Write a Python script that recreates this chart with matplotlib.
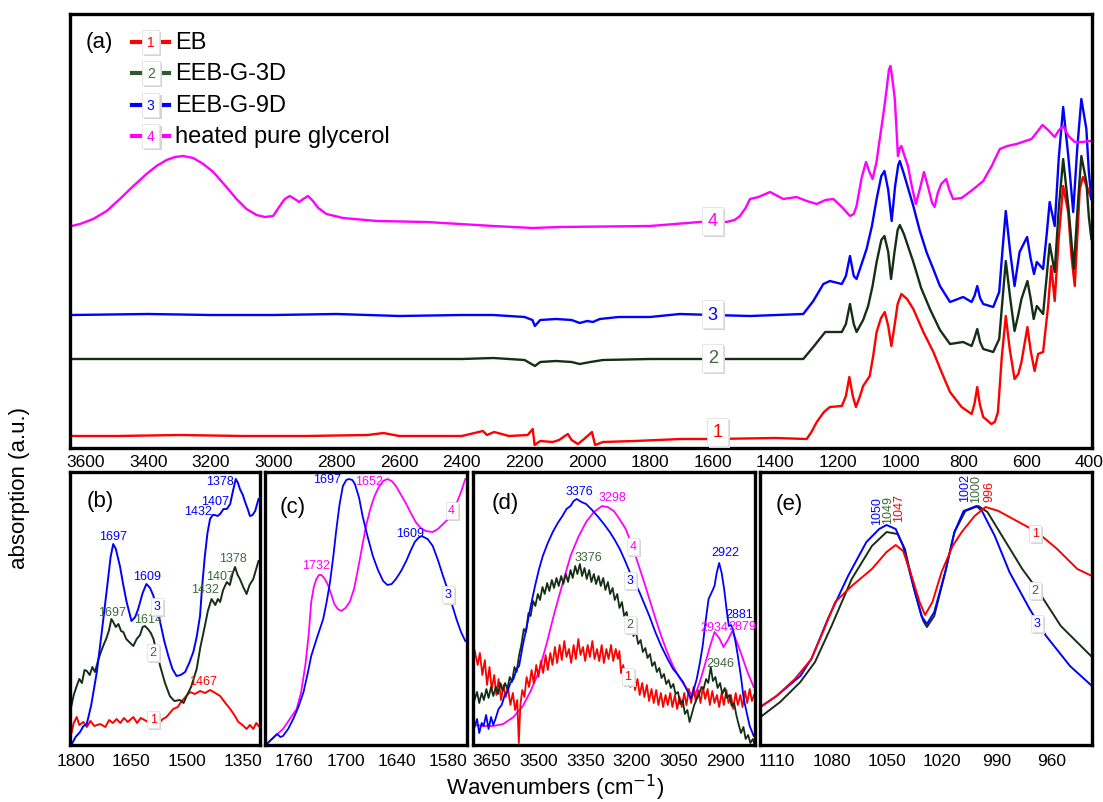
import matplotlib
matplotlib.use("Agg")
import matplotlib.pyplot as plt
import numpy as np

plt.rcParams['font.family'] = ['Liberation Sans', 'DejaVu Sans']

RED = '#ff0000'
GRN = '#152f15'
GRN_TXT = '#3b6a3b'
BLU = '#0000ff'
MAG = '#ff00ff'

# ---------------- (a) full spectra, (wavenumber, absorption a.u.) ----------------
a_eb = [(3645, 12), (3500, 12), (3300, 13), (3100, 12), (2900, 12), (2700, 13), (2650, 15), (2600, 12),
        (2400, 12), (2333, 17), (2320, 13), (2297, 16), (2250, 12), (2190, 13), (2174, 19), (2168, 3),
        (2150, 7), (2110, 6), (2090, 8), (2062, 14), (2050, 8), (2030, 4), (2010, 9), (1985, 16),
        (1975, 3), (1950, 6), (1850, 7), (1700, 9), (1600, 9), (1400, 10), (1300, 9), (1285, 16),
        (1268, 26), (1245, 36), (1226, 41), (1188, 42), (1175, 52), (1164, 71), (1153, 52), (1143, 41),
        (1130, 52), (1120, 62), (1099, 72), (1088, 92), (1077, 116), (1063, 130), (1051, 136),
        (1040, 122), (1030, 102), (1020, 122), (1010, 144), (998, 154), (980, 149), (960, 139),
        (928, 116), (896, 96), (870, 76), (843, 56), (806, 41), (774, 34), (765, 44), (756, 61),
        (748, 44), (737, 31), (711, 24), (700, 26), (690, 36), (678, 90), (665, 132), (652, 98),
        (637, 69), (625, 74), (615, 86), (596, 121), (585, 96), (573, 77), (562, 94), (546, 96),
        (530, 142), (520, 182), (509, 147), (496, 210), (482, 262), (466, 236), (455, 190), (445, 162),
        (437, 210), (429, 259), (419, 271), (403, 259), (392, 249)]
a_g3d = [(3645, 89), (3400, 89), (3000, 89), (2600, 89), (2400, 89), (2300, 90), (2200, 88), (2167, 82),
         (2150, 86), (2100, 87), (2050, 86), (2024, 84), (1990, 86), (1950, 88), (1800, 89), (1600, 89),
         (1311, 89), (1279, 101), (1241, 116), (1188, 116), (1175, 124), (1162, 144), (1150, 124),
         (1141, 116), (1120, 128), (1104, 142), (1090, 162), (1077, 186), (1062, 208), (1052, 212),
         (1040, 196), (1031, 169), (1020, 196), (1010, 218), (1003, 223), (990, 214), (975, 200),
         (960, 186), (935, 160), (907, 139), (875, 118), (843, 104), (801, 106), (774, 102), (765, 110),
         (756, 119), (747, 106), (737, 99), (705, 96), (686, 109), (675, 150), (665, 187), (651, 150),
         (637, 117), (626, 132), (615, 149), (596, 167), (586, 150), (576, 129), (566, 142), (546, 134),
         (535, 170), (525, 204), (509, 176), (496, 240), (482, 289), (465, 240), (448, 179), (436, 240),
         (424, 292), (408, 266), (400, 231), (392, 209)]
a_g9d = [(3645, 133), (3400, 134), (3200, 133), (3000, 133), (2800, 134), (2600, 132), (2400, 133),
         (2300, 133), (2200, 131), (2175, 128), (2167, 122), (2150, 128), (2100, 129), (2050, 128),
         (2024, 125), (2000, 127), (1982, 126), (1960, 129), (1900, 131), (1800, 131), (1705, 134),
         (1600, 133), (1481, 132), (1311, 134), (1279, 147), (1247, 164), (1226, 167), (1188, 164),
         (1175, 172), (1162, 192), (1150, 172), (1141, 169), (1125, 184), (1109, 199), (1092, 222),
         (1077, 249), (1062, 272), (1052, 277), (1040, 258), (1029, 227), (1018, 262), (1008, 283),
         (1003, 287), (990, 274), (975, 258), (960, 242), (940, 218), (918, 196), (895, 178), (875, 162),
         (843, 146), (801, 151), (774, 146), (765, 152), (756, 162), (747, 150), (737, 144), (705, 141),
         (686, 156), (675, 200), (665, 237), (651, 196), (637, 162), (621, 196), (597, 211), (586, 190),
         (575, 174), (566, 186), (546, 179), (535, 212), (525, 246), (509, 222), (496, 290), (482, 341),
         (465, 290), (450, 236), (437, 300), (424, 349), (408, 319), (400, 276), (392, 249)]
a_gly = [(3645, 222), (3618, 224), (3576, 229), (3533, 237), (3491, 249), (3448, 262), (3406, 274),
         (3374, 282), (3342, 288), (3315, 291), (3289, 292), (3257, 290), (3225, 284), (3193, 276),
         (3151, 261), (3119, 249), (3087, 239), (3055, 233), (3028, 231), (3002, 232), (2981, 242),
         (2965, 249), (2949, 252), (2933, 249), (2919, 246), (2906, 249), (2891, 252), (2875, 247),
         (2858, 240), (2832, 234), (2779, 230), (2672, 227), (2513, 226), (2300, 222), (2173, 220),
         (2087, 221), (1800, 222), (1641, 226), (1556, 226), (1530, 228), (1513, 232), (1495, 240),
         (1481, 249), (1454, 251), (1417, 256), (1375, 249), (1332, 251), (1300, 247), (1268, 244),
         (1240, 248), (1215, 249), (1188, 241), (1162, 232), (1150, 234), (1141, 242), (1125, 270),
         (1111, 286), (1100, 276), (1090, 269), (1078, 285), (1067, 309), (1055, 335), (1045, 359),
         (1038, 378), (1033, 382), (1027, 370), (1019, 349), (1013, 315), (1009, 292), (1003, 300),
         (998, 302), (988, 292), (977, 282), (965, 262), (952, 244), (940, 258), (926, 276), (912, 260),
         (900, 245), (892, 241), (882, 255), (871, 264), (855, 269), (845, 258), (833, 249), (806, 250),
         (780, 256), (760, 261), (737, 267), (710, 282), (684, 299), (660, 302), (631, 304), (583, 309),
         (560, 318), (548, 323), (530, 318), (509, 311), (495, 318), (482, 322), (465, 312), (445, 306),
         (420, 306), (400, 307), (392, 307)]

# ---------------- (b) 1800-1300 ----------------
b_eb = [(1813, 9), (1805, 22), (1797, 28), (1790, 20), (1779, 23), (1770, 18), (1760, 24), (1750, 19),
        (1734, 21), (1720, 18), (1710, 25), (1700, 22), (1690, 26), (1680, 22), (1670, 27), (1660, 23),
        (1645, 28), (1635, 22), (1625, 27), (1610, 24), (1595, 20), (1578, 21), (1566, 26), (1556, 28),
        (1538, 36), (1526, 38), (1515, 44), (1505, 48), (1493, 53), (1480, 51), (1466, 54), (1452, 52),
        (1439, 55), (1425, 52), (1412, 49), (1398, 42), (1385, 36), (1374, 30), (1363, 23), (1352, 20),
        (1341, 16), (1332, 20), (1323, 16), (1315, 22), (1309, 19)]
b_g3d = [(1813, 36), (1805, 50), (1797, 59), (1790, 66), (1783, 62), (1776, 75), (1770, 74), (1762, 70),
         (1755, 78), (1748, 73), (1740, 84), (1733, 92), (1726, 99), (1718, 106), (1710, 115),
         (1704, 126), (1699, 123), (1692, 118), (1685, 121), (1678, 114), (1672, 113), (1664, 106),
         (1656, 103), (1645, 99), (1636, 106), (1627, 110), (1620, 118), (1614, 119), (1606, 116),
         (1598, 112), (1591, 106), (1583, 94), (1573, 79), (1560, 62), (1547, 49), (1535, 44),
         (1520, 45), (1510, 42), (1502, 49), (1490, 58), (1475, 76), (1465, 98), (1453, 119),
         (1445, 134), (1435, 146), (1425, 140), (1418, 146), (1412, 143), (1404, 155), (1394, 163),
         (1386, 160), (1378, 172), (1372, 178), (1365, 170), (1359, 166), (1350, 158), (1341, 151),
         (1333, 160), (1323, 166), (1316, 175), (1309, 184)]
b_g9d = [(1810, 1), (1800, 8), (1788, 13), (1779, 19), (1770, 21), (1758, 40), (1743, 73), (1730, 112),
         (1716, 156), (1706, 188), (1699, 201), (1692, 196), (1681, 179), (1672, 160), (1663, 143),
         (1650, 124), (1640, 128), (1632, 136), (1620, 152), (1610, 161), (1600, 157), (1591, 149),
         (1582, 137), (1573, 123), (1562, 104), (1551, 89), (1540, 76), (1529, 69), (1518, 70),
         (1506, 73), (1495, 82), (1484, 93), (1475, 108), (1466, 129), (1460, 160), (1453, 189),
         (1446, 212), (1439, 226), (1432, 230), (1426, 230), (1419, 229), (1412, 231), (1403, 236),
         (1394, 236), (1385, 241), (1377, 255), (1370, 266), (1364, 262), (1359, 256), (1351, 250),
         (1345, 243), (1338, 236), (1332, 229), (1325, 230), (1318, 234), (1309, 246)]

# ---------------- (c) 1790-1560 ----------------
c_g9d = [(1792, 1), (1786, 6), (1780, 11), (1776, 8), (1773, 9), (1767, 16), (1761, 26), (1755, 38),
         (1749, 53), (1744, 72), (1740, 89), (1733, 108), (1726, 126), (1722, 143), (1718, 163),
         (1714, 190), (1711, 213), (1707, 240), (1703, 259), (1699, 265), (1696, 266), (1692, 265),
         (1689, 261), (1684, 247), (1680, 229), (1674, 208), (1668, 189), (1662, 175), (1656, 164),
         (1651, 160), (1646, 161), (1641, 166), (1635, 174), (1629, 184), (1624, 194), (1619, 203),
         (1615, 207), (1611, 209), (1604, 206), (1598, 199), (1592, 185), (1586, 169), (1580, 154),
         (1575, 139), (1570, 125), (1565, 113), (1560, 104)]
c_gly = [(1792, 1), (1782, 9), (1773, 16), (1765, 26), (1757, 36), (1752, 52), (1747, 79), (1743, 110),
         (1740, 143), (1737, 158), (1734, 166), (1731, 170), (1728, 170), (1724, 166), (1720, 159),
         (1716, 149), (1713, 141), (1709, 136), (1705, 134), (1700, 137), (1695, 143), (1690, 156),
         (1686, 173), (1681, 196), (1676, 219), (1671, 236), (1666, 249), (1661, 258), (1656, 264),
         (1651, 266), (1646, 264), (1641, 259), (1635, 250), (1629, 241), (1623, 231), (1618, 223),
         (1612, 217), (1606, 214), (1598, 213), (1592, 216), (1586, 221), (1580, 226), (1575, 233),
         (1570, 242), (1565, 253), (1560, 266)]

# ---------------- (d) 3700-2800 ----------------
d_eb = [(3705, 95), (3695, 80), (3688, 92), (3680, 70), (3672, 85), (3665, 60), (3657, 78), (3650, 55),
        (3642, 70), (3635, 50), (3628, 66), (3620, 45), (3612, 60), (3605, 48), (3598, 58), (3590, 40),
        (3582, 52), (3575, 35), (3568, 45), (3563, 2), (3558, 40), (3552, 55), (3545, 48), (3538, 68),
        (3530, 58), (3522, 75), (3515, 62), (3507, 80), (3500, 68), (3492, 84), (3485, 72), (3477, 90),
        (3470, 75), (3462, 92), (3455, 80), (3447, 98), (3440, 82), (3432, 100), (3425, 85), (3417, 104),
        (3410, 88), (3402, 96), (3395, 82), (3387, 100), (3380, 86), (3372, 106), (3365, 90), (3357, 98),
        (3350, 84), (3342, 100), (3335, 88), (3327, 104), (3320, 86), (3312, 96), (3305, 84), (3297, 100),
        (3290, 82), (3282, 96), (3275, 86), (3267, 100), (3260, 84), (3252, 96), (3245, 86), (3240, 94),
        (3235, 72), (3228, 80), (3220, 66), (3212, 74), (3205, 58), (3197, 70), (3190, 55), (3182, 66),
        (3175, 50), (3167, 62), (3160, 48), (3152, 60), (3145, 44), (3137, 56), (3130, 42), (3122, 55),
        (3115, 40), (3107, 52), (3100, 38), (3092, 50), (3085, 40), (3077, 52), (3070, 38), (3062, 50),
        (3055, 36), (3047, 48), (3040, 38), (3032, 52), (3025, 40), (3017, 56), (3010, 42), (3002, 58),
        (2995, 44), (2987, 55), (2980, 42), (2972, 58), (2965, 46), (2957, 56), (2950, 40), (2942, 54),
        (2935, 42), (2927, 50), (2920, 38), (2912, 52), (2905, 40), (2897, 55), (2890, 42), (2882, 50),
        (2875, 36), (2867, 52), (2860, 40), (2852, 50), (2845, 38), (2837, 54), (2830, 42), (2822, 56),
        (2815, 44), (2808, 50)]
d_g3d = [(3705, 45), (3697, 53), (3690, 42), (3682, 52), (3675, 45), (3667, 56), (3660, 47), (3652, 58),
         (3645, 49), (3637, 58), (3630, 51), (3622, 62), (3615, 54), (3607, 62), (3600, 56), (3592, 68),
         (3585, 63), (3577, 78), (3570, 73), (3562, 90), (3555, 100), (3547, 116), (3540, 113),
         (3532, 132), (3525, 129), (3517, 144), (3510, 139), (3502, 151), (3495, 145), (3487, 158),
         (3480, 151), (3472, 162), (3465, 154), (3457, 165), (3450, 157), (3442, 167), (3435, 159),
         (3427, 169), (3420, 161), (3412, 171), (3405, 163), (3397, 175), (3390, 167), (3382, 179),
         (3375, 171), (3367, 181), (3360, 169), (3352, 177), (3345, 166), (3337, 175), (3330, 163),
         (3322, 171), (3315, 161), (3307, 169), (3300, 159), (3292, 167), (3285, 155), (3277, 163),
         (3270, 151), (3262, 157), (3255, 145), (3247, 151), (3240, 137), (3232, 143), (3225, 129),
         (3217, 133), (3210, 119), (3202, 123), (3195, 109), (3187, 113), (3180, 101), (3172, 105),
         (3165, 93), (3157, 97), (3150, 87), (3142, 91), (3135, 79), (3127, 83), (3120, 73), (3112, 77),
         (3105, 67), (3097, 71), (3090, 61), (3082, 65), (3075, 57), (3067, 61), (3060, 51), (3052, 53),
         (3045, 41), (3037, 45), (3030, 31), (3022, 35), (3015, 23), (3007, 32), (3000, 40), (2992, 46),
         (2985, 50), (2977, 58), (2970, 56), (2962, 66), (2955, 62), (2947, 78), (2940, 64), (2932, 68),
         (2925, 57), (2917, 62), (2910, 51), (2902, 57), (2895, 47), (2887, 50), (2880, 39), (2872, 42),
         (2865, 30), (2857, 20), (2850, 12), (2842, 18), (2835, 6), (2827, 10), (2820, 2), (2812, 6),
         (2806, 0)]
d_g9d = [(3705, 18), (3697, 26), (3690, 12), (3682, 22), (3676, 19), (3668, 30), (3660, 16), (3652, 28),
         (3645, 20), (3638, 26), (3628, 36), (3618, 40), (3608, 50), (3600, 53), (3590, 62), (3580, 66),
         (3570, 76), (3562, 79), (3550, 100), (3537, 119), (3524, 140), (3511, 159), (3498, 176),
         (3486, 189), (3470, 202), (3454, 213), (3438, 222), (3423, 229), (3410, 236), (3397, 239),
         (3387, 244), (3377, 246), (3362, 243), (3347, 241), (3328, 235), (3308, 228), (3290, 221),
         (3271, 213), (3255, 205), (3239, 196), (3223, 185), (3207, 173), (3192, 163), (3176, 153),
         (3160, 141), (3144, 129), (3125, 113), (3106, 99), (3087, 87), (3068, 76), (3052, 70),
         (3036, 63), (3022, 54), (3011, 46), (3002, 55), (2992, 66), (2982, 82), (2973, 99), (2963, 125),
         (2954, 146), (2945, 152), (2935, 159), (2928, 172), (2920, 182), (2912, 172), (2904, 156),
         (2896, 135), (2889, 119), (2882, 120), (2876, 116), (2868, 104), (2860, 89), (2850, 68),
         (2841, 46), (2830, 30), (2822, 19), (2809, 9)]
d_gly = [(3705, 20), (3676, 19), (3645, 19), (3613, 21), (3580, 28), (3550, 39), (3525, 54), (3499, 73),
         (3474, 101), (3448, 133), (3422, 162), (3397, 189), (3372, 208), (3347, 223), (3322, 233),
         (3296, 239), (3278, 238), (3258, 234), (3240, 226), (3220, 216), (3200, 200), (3182, 183),
         (3163, 165), (3144, 146), (3125, 127), (3106, 109), (3087, 93), (3068, 79), (3049, 68),
         (3030, 59), (3015, 53), (2999, 49), (2983, 62), (2967, 79), (2950, 98), (2935, 113), (2920, 107),
         (2906, 98), (2892, 105), (2878, 114), (2862, 102), (2847, 89), (2828, 72), (2809, 58)]

# ---------------- (e) 1115-940 ----------------
e_eb = [(1118, 39), (1110, 49), (1100, 66), (1091, 86), (1084, 116), (1078, 143), (1069, 159),
        (1058, 176), (1050, 193), (1045, 200), (1041, 194), (1037, 173), (1032, 143), (1029, 130),
        (1025, 143), (1020, 173), (1014, 199), (1009, 213), (1002, 229), (996, 238), (989, 234),
        (978, 223), (968, 213), (957, 196), (946, 176), (938, 169)]
e_g3d = [(1118, 29), (1108, 43), (1097, 63), (1089, 83), (1080, 119), (1069, 166), (1058, 199),
         (1050, 213), (1044, 211), (1040, 196), (1035, 156), (1030, 124), (1028, 118), (1024, 129),
         (1018, 173), (1013, 213), (1007, 234), (1000, 239), (995, 233), (987, 209), (976, 176),
         (968, 156), (955, 119), (938, 88)]
e_g9d = [(1118, 39), (1110, 49), (1097, 69), (1091, 86), (1082, 126), (1071, 169), (1061, 203),
         (1054, 216), (1050, 220), (1045, 216), (1041, 199), (1036, 163), (1031, 129), (1028, 121),
         (1024, 133), (1018, 173), (1013, 213), (1008, 234), (1001, 239), (998, 234), (991, 209),
         (983, 173), (972, 136), (963, 109), (950, 79), (938, 59)]

# peak labels: (text, wavenumber, absorption, colour)
b_peaks = [('1697', 1700, 209, BLU), ('1609', 1608, 169, BLU), ('1697', 1702, 133, GRN_TXT),
           ('1614', 1606, 126, GRN_TXT), ('1467', 1458, 64, RED), ('1432', 1471, 234, BLU),
           ('1407', 1426, 244, BLU), ('1378', 1412, 264, BLU), ('1432', 1453, 156, GRN_TXT),
           ('1407', 1412, 169, GRN_TXT), ('1378', 1377, 187, GRN_TXT)]
c_peaks = [('1697', 1721, 266, BLU), ('1652', 1672, 264, MAG), ('1732', 1734, 180, MAG),
           ('1609', 1624, 212, BLU)]
d_peaks = [('3376', 3370, 254, BLU), ('3298', 3264, 248, MAG), ('3376', 3338, 188, GRN_TXT),
           ('2922', 2901, 193, BLU), ('2881', 2856, 131, BLU), ('2934', 2937, 118, MAG),
           ('2879', 2847, 119, MAG), ('2946', 2917, 82, GRN_TXT)]
e_peaks = [('1050', 1055, 221, BLU), ('1049', 1049, 222, GRN_TXT), ('1047', 1043, 224, RED),
           ('1002', 1007, 244, BLU), ('1000', 1001, 243, GRN_TXT), ('996', 994, 244, RED)]

legend_names = ['EB', 'EEB-G-3D', 'EEB-G-9D', 'heated pure glycerol']
legend_cols = [RED, '#2f5a2f', BLU, MAG]
num_cols = [RED, GRN_TXT, BLU, MAG]

W, H = 1103, 803
fig = plt.figure(figsize=(W / 100, H / 100), dpi=100)


def px_axes(x0, y0, x1, y1):
    return fig.add_axes([x0 / W, 1 - y1 / H, (x1 - x0) / W, (y1 - y0) / H])


def tag(ax, x, y, s, color, size, pad=0.3, transform=None):
    tr = ax.transData if transform is None else transform
    ax.annotate(s, (x, y), xycoords=tr, xytext=(1.5, -1.5), textcoords='offset points',
                color='none', fontsize=size, ha='center', va='center', zorder=5,
                bbox=dict(boxstyle=f'square,pad={pad}', fc='#d4d4d4', ec='none'))
    ax.text(x, y, s, color=color, fontsize=size, ha='center', va='center', zorder=6,
            transform=tr,
            bbox=dict(boxstyle=f'square,pad={pad}', fc='white', ec='#e2e2e2', lw=0.6))


def style(ax, xlim, ylim, ticks, pad):
    ax.set_xlim(*xlim)
    ax.set_ylim(*ylim)
    ax.set_xticks(ticks)
    ax.set_yticks([])
    ax.tick_params(axis='x', length=0, pad=pad, labelsize=12.5)
    for sp in ax.spines.values():
        sp.set_linewidth(2.4)


def curve(ax, pts, color, lw):
    arr = np.array(pts, dtype=float)
    ax.plot(arr[:, 0], arr[:, 1], color=color, lw=lw, solid_joinstyle='round')


# ---- (a)
ax = px_axes(70, 15, 1092, 449)
style(ax, (3650, 390), (0, 434), np.arange(3600, 399, -200), 4)
for pts, col in [(a_eb, RED), (a_g3d, GRN), (a_g9d, BLU), (a_gly, MAG)]:
    curve(ax, pts, col, 1.7)
tag(ax, 1600, 227, '4', MAG, 13)
tag(ax, 1600, 134, '3', BLU, 13)
tag(ax, 1600, 90, '2', GRN_TXT, 13)
tag(ax, 1585, 16, '1', RED, 13)
ax.text(0.029, 0.936, '(a)', transform=ax.transAxes, fontsize=16, ha='center', va='center')
for i, (name, lc, nc) in enumerate(zip(legend_names, legend_cols, num_cols)):
    yy = 0.936 - i * 0.0725
    ax.plot([0.061, 0.097], [yy, yy], color=lc, lw=3, transform=ax.transAxes)
    tag(ax, 0.079, yy, str(i + 1), nc, 10, pad=0.35, transform=ax.transAxes)
    ax.text(0.103, yy, name, transform=ax.transAxes, fontsize=17, ha='left', va='center')

# ---- (b)
ax = px_axes(70, 473, 260, 746)
style(ax, (1815, 1305), (0, 273), [1800, 1650, 1500, 1350], 6)
curve(ax, b_eb, RED, 1.4)
curve(ax, b_g3d, GRN, 1.4)
curve(ax, b_g9d, BLU, 1.4)
for s, x, y, c in b_peaks:
    ax.text(x, y, s, color=c, fontsize=9, ha='center', va='center')
tag(ax, 1581, 139, '3', BLU, 9, pad=0.2)
tag(ax, 1592, 93, '2', GRN_TXT, 9, pad=0.2)
tag(ax, 1592, 26, '1', RED, 9, pad=0.2)
ax.text(0.158, 0.894, '(b)', transform=ax.transAxes, fontsize=16, ha='center', va='center')

# ---- (c)
ax = px_axes(265, 473, 467, 746)
style(ax, (1794, 1558), (0, 273), [1760, 1700, 1640, 1580], 6)
curve(ax, c_gly, MAG, 1.3)
curve(ax, c_g9d, BLU, 1.3)
for s, x, y, c in c_peaks:
    ax.text(x, y, s, color=c, fontsize=9, ha='center', va='center')
tag(ax, 1580, 151, '3', BLU, 9, pad=0.2)
tag(ax, 1576, 235, '4', MAG, 9, pad=0.2)
ax.text(0.139, 0.875, '(c)', transform=ax.transAxes, fontsize=16, ha='center', va='center')

# ---- (d)
ax = px_axes(473, 473, 755, 746)
style(ax, (3710, 2805), (0, 273), [3650, 3500, 3350, 3200, 3050, 2900], 6)
curve(ax, d_gly, MAG, 1.3)
curve(ax, d_eb, RED, 1.3)
curve(ax, d_g3d, GRN, 1.3)
curve(ax, d_g9d, BLU, 1.3)
for s, x, y, c in d_peaks:
    ax.text(x, y, s, color=c, fontsize=9, ha='center', va='center')
tag(ax, 3197, 199, '4', MAG, 9, pad=0.2)
tag(ax, 3206, 165, '3', BLU, 9, pad=0.2)
tag(ax, 3206, 121, '2', GRN_TXT, 9, pad=0.2)
tag(ax, 3213, 69, '1', RED, 9, pad=0.2)
ax.text(0.113, 0.89, '(d)', transform=ax.transAxes, fontsize=16, ha='center', va='center')

# ---- (e)
ax = px_axes(760, 473, 1092, 746)
style(ax, (1119, 938), (0, 273), [1110, 1080, 1050, 1020, 990, 960], 6)
curve(ax, e_g3d, GRN, 1.4)
curve(ax, e_g9d, BLU, 1.4)
curve(ax, e_eb, RED, 1.4)
for s, x, y, c in e_peaks:
    ax.text(x, y, s, color=c, fontsize=9, ha='center', va='bottom', rotation=90)
tag(ax, 969, 212, '1', RED, 9, pad=0.2)
tag(ax, 969, 155, '2', GRN_TXT, 9, pad=0.2)
tag(ax, 968, 122, '3', BLU, 9, pad=0.2)
ax.text(0.087, 0.883, '(e)', transform=ax.transAxes, fontsize=16, ha='center', va='center')

fig.text(20 / W, 1 - 488 / H, 'absorption (a.u.)', rotation=90, fontsize=16, ha='center', va='center')
fig.text(555 / W, 1 - 788 / H, 'Wavenumbers (cm$^{-1}$)', fontsize=16, ha='center', va='center')

fig.savefig('out.png', dpi=100)
